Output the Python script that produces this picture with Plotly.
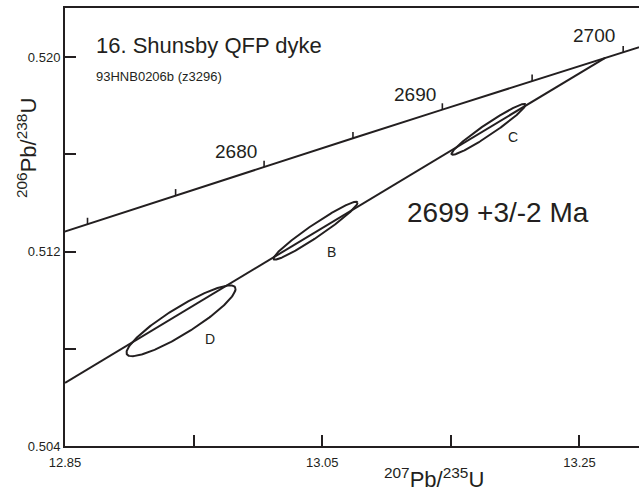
import numpy as np
import plotly.graph_objects as go

# Concordia points (age in Ma, 207Pb/235U, 206Pb/238U)
conc_age = [2665, 2670, 2675, 2680, 2685, 2690, 2695, 2700, 2705]
conc_x = [12.7994, 12.8675, 12.9360, 13.0048, 13.0739, 13.1434, 13.2132, 13.2840, 13.3539]
conc_y = [0.51196, 0.51313, 0.51431, 0.51548, 0.51666, 0.51784, 0.51902, 0.52020, 0.52137]
labelled_ages = [2680, 2690, 2700]

# Discordia (lower point at left edge, upper intercept at 2699 Ma)
disc_x = [12.85, 13.270]
disc_y = [0.50660, 0.51997]

# Analyses: name, 207/235, 206/238, 2-sigma extents, correlation
ell_name = ["D", "B", "C"]
ell_cx = [12.9402, 13.0448, 13.1793]
ell_cy = [0.50915, 0.51286, 0.51703]
ell_sx = [0.0424, 0.0327, 0.0288]
ell_sy = [0.001456, 0.00119, 0.001046]
ell_rho = [0.90, 0.965, 0.965]

x_ticks = [12.85, 13.05, 13.25]
x_minor = [12.95, 13.15]
y_ticks = [0.504, 0.512, 0.520]
y_minor = [0.508, 0.516]

X_RANGE = [12.85, 13.2963]
Y_RANGE = [0.504, 0.52202]

INK = "#231f20"
FONT = "Liberation Sans, Arial, Helvetica, sans-serif"

fig = go.Figure()

# concordia curve
fig.add_trace(go.Scatter(x=conc_x, y=conc_y, mode="lines",
                         line=dict(color=INK, width=2), hoverinfo="skip"))

# concordia age ticks (short upward marks)
tick_dy = 0.00026
tx, ty = [], []
for a, x, y in zip(conc_age, conc_x, conc_y):
    tx += [x, x, None]
    ty += [y, y + tick_dy, None]
fig.add_trace(go.Scatter(x=tx, y=ty, mode="lines",
                         line=dict(color=INK, width=1.6), hoverinfo="skip"))

# discordia
fig.add_trace(go.Scatter(x=disc_x, y=disc_y, mode="lines",
                         line=dict(color=INK, width=2), hoverinfo="skip"))

# error ellipses
th = np.linspace(0, 2 * np.pi, 241)
for cx, cy, sx, sy, r in zip(ell_cx, ell_cy, ell_sx, ell_sy, ell_rho):
    ex = cx + sx * np.cos(th)
    ey = cy + sy * (r * np.cos(th) + np.sqrt(1 - r * r) * np.sin(th))
    fig.add_trace(go.Scatter(x=ex, y=ey, mode="lines",
                             line=dict(color=INK, width=2), hoverinfo="skip"))

ann = []
# age labels
age_lab_pos = {2680: (12.9826, 0.51610), 2690: (13.1219, 0.51845), 2700: (13.2615, 0.52088)}
for a in labelled_ages:
    px_, py_ = age_lab_pos[a]
    ann.append(dict(x=px_, y=py_, xref="x", yref="y", text=str(a), showarrow=False,
                    font=dict(size=19, color=INK, family=FONT), xanchor="center", yanchor="middle"))
# ellipse labels
ell_lab_pos = [(12.9624, 0.50841), (13.0573, 0.51199), (13.1981, 0.51672)]
for n, (px_, py_) in zip(ell_name, ell_lab_pos):
    ann.append(dict(x=px_, y=py_, xref="x", yref="y", text=n, showarrow=False,
                    font=dict(size=14, color=INK, family=FONT), xanchor="center", yanchor="middle"))

ann.append(dict(x=12.8722, y=0.52049, xref="x", yref="y", text="16. Shunsby QFP dyke",
                showarrow=False, font=dict(size=22, color=INK, family=FONT),
                xanchor="left", yanchor="middle"))
ann.append(dict(x=12.8722, y=0.51919, xref="x", yref="y", text="93HNB0206b (z3296)",
                showarrow=False, font=dict(size=13, color=INK, family=FONT),
                xanchor="left", yanchor="middle"))
ann.append(dict(x=13.1141, y=0.51359, xref="x", yref="y", text="2699 +3/-2 Ma",
                showarrow=False, font=dict(size=28, color=INK, family=FONT),
                xanchor="left", yanchor="middle"))
# axis titles
ann.append(dict(x=434, y=491 - 478, xref="paper", yref="paper", text="<sup>207</sup>Pb/<sup>235</sup>U",
                showarrow=False, font=dict(size=22, color=INK, family=FONT),
                xanchor="center", yanchor="middle"))
ann.append(dict(x=27, y=491 - 148, xref="paper", yref="paper", text="<sup>206</sup>Pb/<sup>238</sup>U",
                showarrow=False, textangle=-90, font=dict(size=22, color=INK, family=FONT),
                xanchor="center", yanchor="middle"))

# convert pixel-placed axis titles to paper coordinates
L, R, T, B = 65, 0, 8, 45
W, H = 639, 491
pw, ph = W - L - R, H - T - B
for a in ann[-2:]:
    a["x"] = (a["x"] - L) / pw
    a["y"] = (a["y"] - B) / ph

minor_style = dict(ticks="inside", ticklen=11, tickwidth=2, tickcolor=INK, showgrid=False)

fig.update_layout(
    width=W, height=H,
    margin=dict(l=L, r=R, t=T, b=B),
    paper_bgcolor="white", plot_bgcolor="white",
    showlegend=False,
    annotations=ann,
    xaxis=dict(range=X_RANGE, tickvals=x_ticks, ticktext=[f"{v:.2f}" for v in x_ticks],
               ticks="inside", ticklen=11, tickwidth=2, tickcolor=INK,
               minor=dict(tickvals=x_minor, **minor_style),
               showline=True, linecolor=INK, linewidth=2, mirror=True,
               showgrid=False, zeroline=False, ticklabelstandoff=3,
               tickfont=dict(size=13, color=INK, family=FONT)),
    yaxis=dict(range=Y_RANGE, tickvals=y_ticks, ticktext=[f"{v:.3f}" for v in y_ticks],
               ticks="inside", ticklen=11, tickwidth=2, tickcolor=INK,
               minor=dict(tickvals=y_minor, **minor_style),
               showline=True, linecolor=INK, linewidth=2,
               showgrid=False, zeroline=False,
               tickfont=dict(size=13, color=INK, family=FONT)),
)

fig.write_html("out.html")
